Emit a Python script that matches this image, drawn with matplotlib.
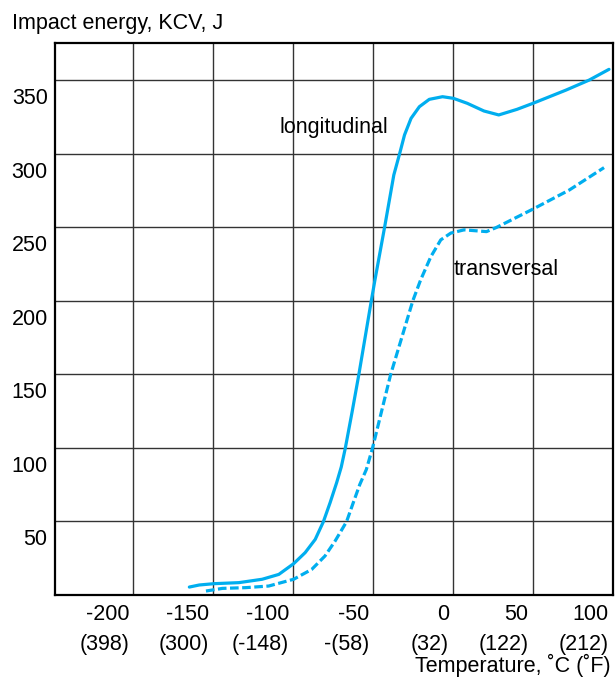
import matplotlib
matplotlib.use("Agg")
import matplotlib.pyplot as plt
from matplotlib.transforms import ScaledTranslation

plt.rcParams['font.family'] = ['Liberation Sans', 'DejaVu Sans']

# Data
long_x = [-164.9, -158.7, -149.4, -133.9, -119.3, -108.9, -99.6, -92.4, -86.1, -81,
          -76.8, -72.7, -69.8, -67.3, -63, -58.8, -51, -48.7, -42.6, -36.9, -33.3,
          -30.2, -26.1, -20.9, -14.7, -6.4, 0.4, 9.1, 19.5, 28.8, 40.2,
          50.2, 70.9, 85.4, 97.8]
long_y = [5.4, 6.8, 7.7, 8.4, 10.7, 14, 21.3, 28.8, 37.8, 49.8,
          62.7, 76.3, 87, 99.6, 124.5, 149.8, 199.9, 214.2, 250.4, 285.5, 299.8,
          312.7, 324, 331.9, 336.9, 338.7, 337.6, 334.2, 329, 326.3, 330.1,
          334.2, 343.2, 350, 357.3]

trans_x = [-154.5, -144.2, -129.6, -115.2, -99.6, -88.3, -80, -73.7, -66.5, -62.3,
           -58.2, -54.1, -50.3, -38.9, -25, -20.1, -13.7, -7.5, -1.2, 7.1,
           21.1, 27.3, 50.2, 73, 94.7]
trans_y = [2.7, 4.5, 5, 6.1, 10.7, 17.4, 26.5, 36.6, 49.8, 62.7,
           75.1, 85.3, 99.6, 149.8, 200, 214.2, 230, 241.4, 246, 248.2,
           247, 249.8, 262.3, 275.3, 290.5]

x_ticks = [-200, -150, -100, -50, 0, 50, 100]
x_tick_c = ['-200', '-150', '-100', '-50', '0', '50', '100']
x_tick_f = ['(398)', '(300)', '(-148)', '-(58)', '(32)', '(122)', '(212)']
y_ticks = [50, 100, 150, 200, 250, 300, 350]
y_tick_labels = ['50', '100', '150', '200', '250', '300', '350']

W, H = 616, 679
FS = 15.5
fig = plt.figure(figsize=(W / 100, H / 100), dpi=100)
ax = fig.add_axes([55 / W, 1 - 595 / H, (612.5 - 55) / W, (595 - 43.3) / H])

color = '#00AEEF'
ax.plot(long_x, long_y, color=color, lw=2.3, solid_capstyle='round', solid_joinstyle='round')
ax.plot(trans_x, trans_y, color=color, lw=2.3, linestyle=(0, (2.7, 1.1)))

ax.set_xlim(-249, 97.5)
ax.set_ylim(0, 375)

ax.set_xticks(x_ticks)
ax.set_xticklabels([f"{c}\n{f}" for c, f in zip(x_tick_c, x_tick_f)],
                   ha='right', multialignment='right', linespacing=1.55)
ax.set_yticks(y_ticks)
ax.set_yticklabels(y_tick_labels)
ax.tick_params(axis='both', length=0, labelsize=FS, colors='black')
ax.tick_params(axis='x', pad=6.5)
ax.tick_params(axis='y', pad=5.3)

ax.grid(True, color='#333333', lw=1.0)
ax.set_axisbelow(True)
for s in ax.spines.values():
    s.set_linewidth(1.6)
    s.set_color('black')

for lbl in ax.get_xticklabels():
    lbl.set_transform(lbl.get_transform() + ScaledTranslation(-4 / 100, 0, fig.dpi_scale_trans))
for lbl in ax.get_yticklabels():
    lbl.set_va('baseline')
    lbl.set_transform(lbl.get_transform() + ScaledTranslation(0, -24 / 100, fig.dpi_scale_trans))

ax.text(-40.6, 314, 'longitudinal', ha='right', va='baseline', fontsize=FS)
ax.text(0.4, 217.7, 'transversal', ha='left', va='baseline', fontsize=FS)

fig.text(12 / W, 1 - 29 / H, 'Impact energy, KCV, J', ha='left', va='baseline', fontsize=FS)
fig.text(611 / W, 1 - 672 / H, 'Temperature, ˚C (˚F)', ha='right', va='baseline', fontsize=FS)

fig.savefig('out.png', dpi=100)
